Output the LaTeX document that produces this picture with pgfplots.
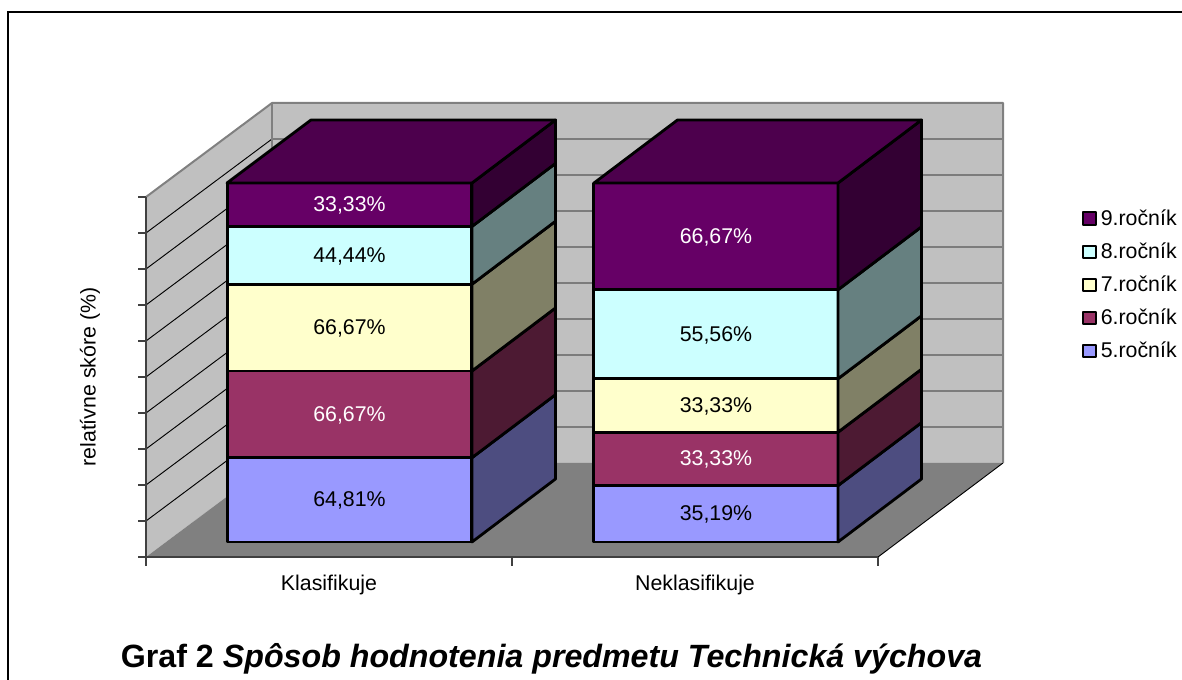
\documentclass[border=0pt]{standalone}
\usepackage{fontspec}
\setmainfont{Liberation Sans}
\usepackage{pgfplots}
\pgfplotsset{compat=1.18}
% 1 reference pixel = 0.75pt, x data are in pixels, y data are percent of the stack
\definecolor{wall}{HTML}{C0C0C0}
\definecolor{floorc}{HTML}{808080}
\definecolor{fA}{HTML}{9999FF}\definecolor{sA}{HTML}{4D4D80}
\definecolor{fB}{HTML}{993366}\definecolor{sB}{HTML}{4D1A33}
\definecolor{fC}{HTML}{FFFFCC}\definecolor{sC}{HTML}{808066}
\definecolor{fD}{HTML}{CCFFFF}\definecolor{sD}{HTML}{668080}
\definecolor{fE}{HTML}{660066}\definecolor{sE}{HTML}{330033}\definecolor{tE}{HTML}{4D004D}
\pgfplotsset{
  plate/.style={scale only axis, width=549pt, xmin=146, xmax=878, ymin=0, ymax=100, clip=false},
  face/.style={draw=black, line width=2.1pt, line join=round},
  gridl/.style={black, line width=0.7pt},
}
\begin{document}
\begin{tikzpicture}
\useasboundingbox (0,0) rectangle (886.5pt,510pt);
\draw[black, line width=1pt] (6pt,0) -- (6pt,501pt) -- (886.5pt,501pt);

% walls, floor and axis
\begin{axis}[plate, height=270pt, at={(109.5pt,92.25pt)}, anchor=south west, axis on top,
    axis x line=bottom, axis y line=left, axis line style={-, draw=black!75, line width=0.9pt},
    xtick={329,695}, xticklabels={Klasifikuje,Neklasifikuje},
    major x tick style={draw=none},
    minor xtick={146,512,878}, minor tick length=6.5pt,
    minor x tick style={draw=black!75, line width=0.8pt},
    xticklabel style={font=\fontsize{16}{18}\selectfont, yshift=-5.7pt},
    ytick={0,10,...,100}, yticklabels={}, tick align=outside,
    major y tick style={draw=black!75, line width=0.8pt, /pgfplots/major tick length=6pt},
    ylabel={relatívne skóre (\%)},
    every axis y label/.style={at={(axis description cs:-0.0765,0.5)}, rotate=90, anchor=center,
      font=\fontsize{16}{18}\selectfont},
  ]
  \addplot[fill=wall, draw=none] coordinates {(272,26.11)(1003,26.11)(1003,126.11)(272,126.11)} -- cycle;
  \addplot[fill=wall, draw=none] coordinates {(146,0)(272,26.11)(272,126.11)(146,100)} -- cycle;
  \addplot[fill=floorc, draw=none] coordinates {(146,0)(272,26.11)(1003,26.11)(878,0)} -- cycle;
  \addplot[black, line width=0.7pt] coordinates {(878,0)(1003,26.11)};
  \addplot[gridl] coordinates {(146,10)(272,36.11)(1003,36.11)};
  \addplot[gridl] coordinates {(146,20)(272,46.11)(1003,46.11)};
  \addplot[gridl] coordinates {(146,30)(272,56.11)(1003,56.11)};
  \addplot[gridl] coordinates {(146,40)(272,66.11)(1003,66.11)};
  \addplot[gridl] coordinates {(146,50)(272,76.11)(1003,76.11)};
  \addplot[gridl] coordinates {(146,60)(272,86.11)(1003,86.11)};
  \addplot[gridl] coordinates {(146,70)(272,96.11)(1003,96.11)};
  \addplot[gridl] coordinates {(146,80)(272,106.11)(1003,106.11)};
  \addplot[gridl] coordinates {(146,90)(272,116.11)(1003,116.11)};
  \addplot[floorc, line width=1.5pt, line join=round] coordinates {(146,100)(272,126.11)(1003,126.11)(1003,26.11)};
  \addplot[floorc, line width=1.5pt] coordinates {(272,126.11)(272,26.11)};
\end{axis}

% front faces of the stacks
\begin{axis}[plate, height=269.25pt, at={(109.5pt,103.5pt)}, anchor=south west, hide axis,
    ybar stacked, bar width=244.5,
    legend cell align=left, reverse legend,
    legend image code/.code={\draw[#1, line width=1.5pt] (0pt,-4.8pt) rectangle (9.8pt,4.8pt);},
    legend style={at={(1.2787,0.716)}, anchor=west, draw=none, fill=none, inner sep=0pt,
      font=\fontsize{16}{18}\selectfont, row sep=11.5pt,
      nodes={inner xsep=2.6pt, inner ysep=0pt}},
  ]
  \addplot[fill=fA, face] coordinates {(349.5,23.48) (716,15.70)};
  \addplot[fill=fB, face] coordinates {(349.5,24.16) (716,14.88)};
  \addplot[fill=fC, face] coordinates {(349.5,24.16) (716,14.88)};
  \addplot[fill=fD, face] coordinates {(349.5,16.10) (716,24.79)};
  \addplot[fill=fE, face] coordinates {(349.5,12.10) (716,29.75)};
  \legend{5.ročník,6.ročník,7.ročník,8.ročník,9.ročník}
\end{axis}

% side faces, tops and value labels
\begin{axis}[plate, height=269.25pt, at={(109.5pt,103.5pt)}, anchor=south west, hide axis]
  \addplot[fill=sA, face] coordinates {(472,0)(555.5,17.55)(555.5,41.03)(472,23.48)} -- cycle;
  \addplot[fill=sB, face] coordinates {(472,23.48)(555.5,41.03)(555.5,65.19)(472,47.64)} -- cycle;
  \addplot[fill=sC, face] coordinates {(472,47.64)(555.5,65.19)(555.5,89.35)(472,71.80)} -- cycle;
  \addplot[fill=sD, face] coordinates {(472,71.80)(555.5,89.35)(555.5,105.45)(472,87.90)} -- cycle;
  \addplot[fill=sE, face] coordinates {(472,87.90)(555.5,105.45)(555.5,117.55)(472,100)} -- cycle;
  \addplot[fill=tE, face] coordinates {(227,100)(311,117.55)(555.5,117.55)(472,100)} -- cycle;

  \addplot[fill=sA, face] coordinates {(838,0)(921.5,17.55)(921.5,33.25)(838,15.70)} -- cycle;
  \addplot[fill=sB, face] coordinates {(838,15.70)(921.5,33.25)(921.5,48.13)(838,30.58)} -- cycle;
  \addplot[fill=sC, face] coordinates {(838,30.58)(921.5,48.13)(921.5,63.01)(838,45.46)} -- cycle;
  \addplot[fill=sD, face] coordinates {(838,45.46)(921.5,63.01)(921.5,87.80)(838,70.25)} -- cycle;
  \addplot[fill=sE, face] coordinates {(838,70.25)(921.5,87.80)(921.5,117.55)(838,100)} -- cycle;
  \addplot[fill=tE, face] coordinates {(594,100)(677.5,117.55)(921.5,117.55)(838,100)} -- cycle;

  \addplot[draw=none, mark=none, point meta=explicit symbolic,
      nodes near coords={\pgfplotspointmeta\%},
      nodes near coords style={anchor=center, yshift=-0.7pt, font=\fontsize{16}{18}\selectfont, text=black}]
    table[meta=label] {
      x y label
      349.5 11.74 64,81
      349.5 59.72 66,67
      349.5 79.85 44,44
      716 7.85 35,19
      716 38.02 33,33
      716 57.85 55,56
    };
  \addplot[draw=none, mark=none, point meta=explicit symbolic,
      nodes near coords={\pgfplotspointmeta\%},
      nodes near coords style={anchor=center, yshift=-0.7pt, font=\fontsize{16}{18}\selectfont, text=white}]
    table[meta=label] {
      x y label
      349.5 35.56 66,67
      349.5 93.95 33,33
      716 23.14 33,33
      716 85.12 66,67
    };
\end{axis}

\node[font=\fontsize{24.15}{27}\selectfont\bfseries, anchor=center] at (413.6pt,16pt)
  {Graf 2 \textit{Spôsob hodnotenia predmetu Technická výchova}};
\end{tikzpicture}
\end{document}
